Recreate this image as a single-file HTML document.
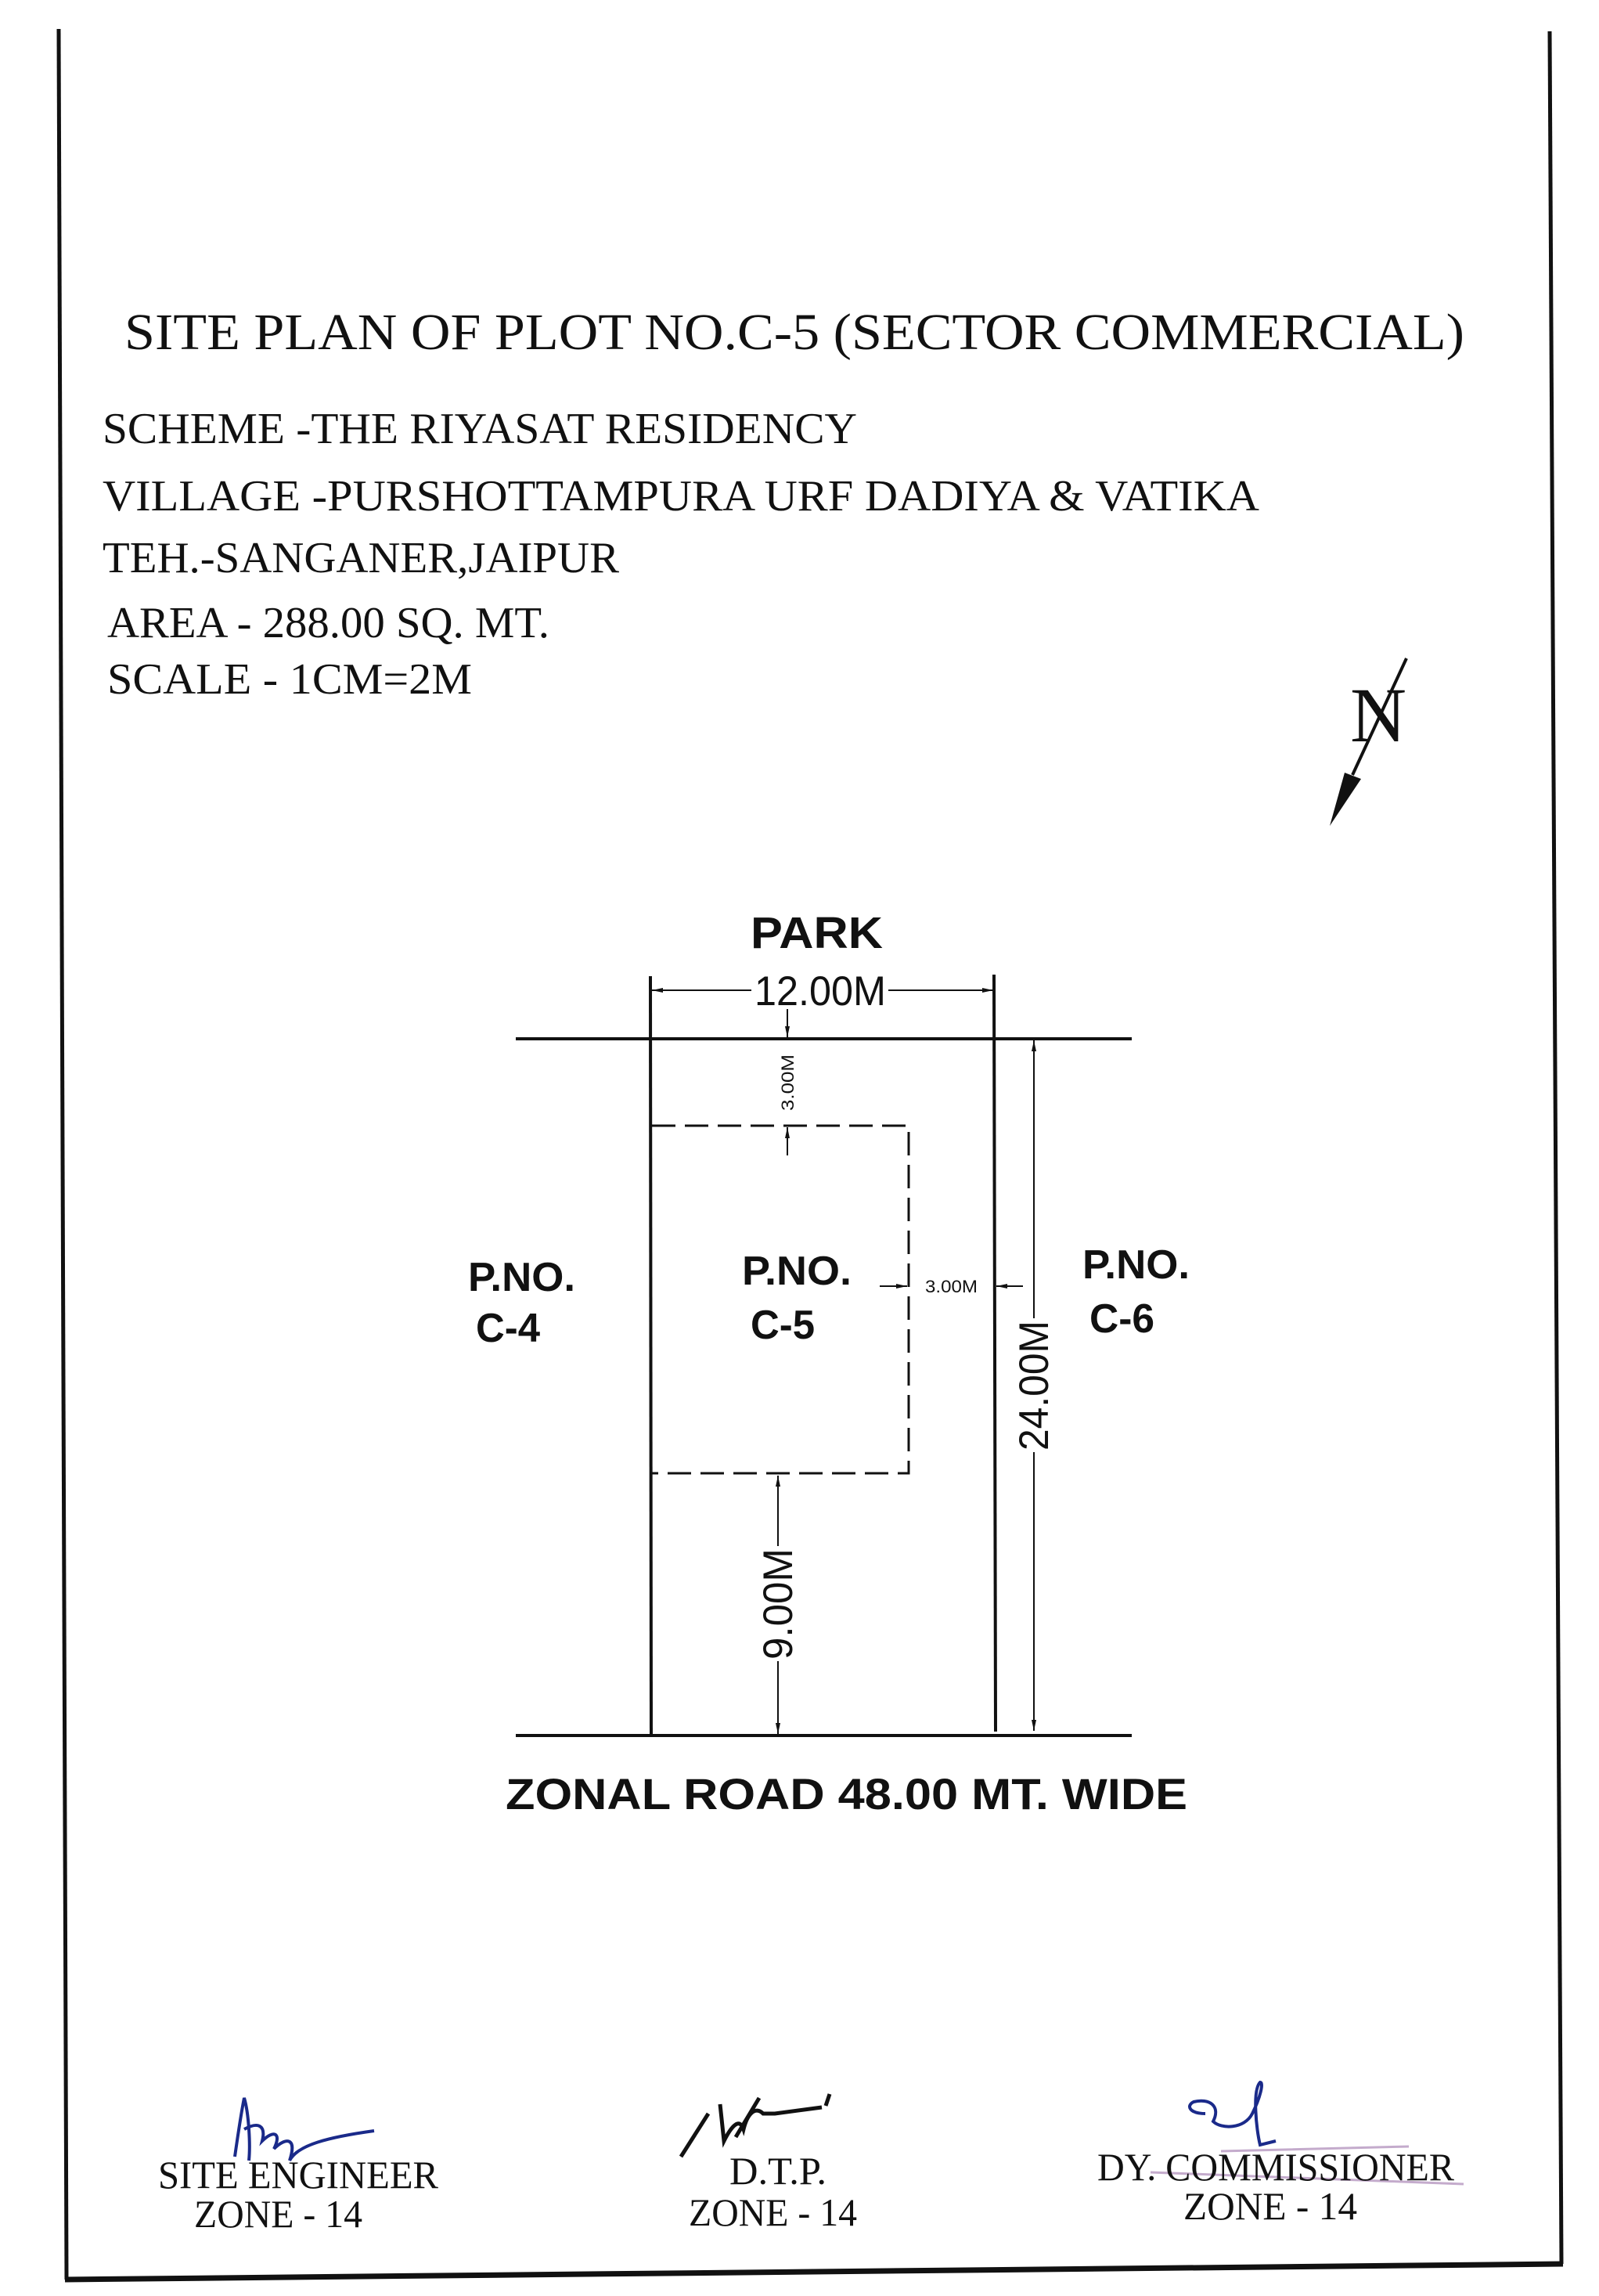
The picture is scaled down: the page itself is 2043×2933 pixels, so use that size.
<!DOCTYPE html>
<html><head><meta charset="utf-8"><style>
html,body{margin:0;padding:0;background:#fff;}
svg{display:block;}
.tr{font-family:"Liberation Serif",serif;fill:#111;}
.ar{font-family:"Liberation Sans",sans-serif;fill:#111;}
</style></head><body>
<svg width="2043" height="2933" viewBox="0 0 2043 2933" xmlns="http://www.w3.org/2000/svg">
<defs>
<marker id="ah" markerWidth="14" markerHeight="8" refX="14" refY="4" orient="auto" markerUnits="userSpaceOnUse">
<path d="M0,1 L14,4 L0,7 z" fill="#111"/></marker>
</defs>
<rect width="2043" height="2933" fill="#fff"/>
<!-- border -->
<line x1="75" y1="37" x2="85" y2="2912" stroke="#111" stroke-width="5"/>
<line x1="1980" y1="40" x2="1995" y2="2892" stroke="#111" stroke-width="5"/>
<line x1="83" y1="2912" x2="1997" y2="2892" stroke="#111" stroke-width="7"/>

<!-- header text -->
<text class="tr" x="159" y="446" font-size="66" textLength="1712" lengthAdjust="spacingAndGlyphs">SITE PLAN OF PLOT NO.C-5 (SECTOR COMMERCIAL)</text>
<text class="tr" x="131" y="566" font-size="56" textLength="964" lengthAdjust="spacingAndGlyphs">SCHEME -THE RIYASAT RESIDENCY</text>
<text class="tr" x="131" y="652" font-size="56" textLength="1478" lengthAdjust="spacingAndGlyphs">VILLAGE  -PURSHOTTAMPURA URF DADIYA &amp; VATIKA</text>
<text class="tr" x="131" y="731" font-size="56" textLength="660" lengthAdjust="spacingAndGlyphs">TEH.-SANGANER,JAIPUR</text>
<text class="tr" x="137" y="814" font-size="56" textLength="565" lengthAdjust="spacingAndGlyphs">AREA  - 288.00 SQ. MT.</text>
<text class="tr" x="137" y="886" font-size="56" textLength="466" lengthAdjust="spacingAndGlyphs">SCALE -  1CM=2M</text>

<!-- north arrow -->
<text class="tr" x="1725" y="947" font-size="100" textLength="72" lengthAdjust="spacingAndGlyphs">N</text>
<line x1="1797" y1="841" x2="1728" y2="990" stroke="#111" stroke-width="4"/>
<path d="M1699,1055 L1718,987 L1739,995 z" fill="#111"/>

<!-- plan -->
<text class="ar" x="959" y="1211" font-size="57" font-weight="bold" textLength="169" lengthAdjust="spacingAndGlyphs">PARK</text>
<line x1="659" y1="1327" x2="1446" y2="1327" stroke="#111" stroke-width="4"/>
<line x1="659" y1="2217" x2="1446" y2="2217" stroke="#111" stroke-width="4"/>
<line x1="831" y1="1247" x2="832" y2="2217" stroke="#111" stroke-width="4"/>
<line x1="1270" y1="1245" x2="1272" y2="2212" stroke="#111" stroke-width="4"/>
<!-- 12.00M -->
<line x1="960" y1="1265" x2="833" y2="1265" stroke="#111" stroke-width="2" marker-end="url(#ah)"/>
<line x1="1135" y1="1265" x2="1269" y2="1265" stroke="#111" stroke-width="2" marker-end="url(#ah)"/>
<text class="ar" x="964" y="1284" font-size="53" textLength="168" lengthAdjust="spacingAndGlyphs">12.00M</text>
<!-- 3.00M top -->
<line x1="1006" y1="1289" x2="1006" y2="1325" stroke="#111" stroke-width="2" marker-end="url(#ah)"/>
<line x1="1006" y1="1476" x2="1006" y2="1440" stroke="#111" stroke-width="2" marker-end="url(#ah)"/>
<text class="ar" font-size="22" transform="translate(1014,1419) rotate(-90)" textLength="72" lengthAdjust="spacingAndGlyphs">3.00M</text>
<!-- dashed setback -->
<path d="M833,1438 L1161,1438 L1161,1882 L833,1882" fill="none" stroke="#111" stroke-width="3" stroke-dasharray="30,12"/>
<!-- 3.00M side -->
<line x1="1124" y1="1643" x2="1159" y2="1643" stroke="#111" stroke-width="2" marker-end="url(#ah)"/>
<line x1="1307" y1="1643" x2="1273" y2="1643" stroke="#111" stroke-width="2" marker-end="url(#ah)"/>
<text class="ar" x="1182" y="1651" font-size="22" textLength="67" lengthAdjust="spacingAndGlyphs">3.00M</text>
<!-- 24.00M -->
<line x1="1321" y1="1684" x2="1321" y2="1329" stroke="#111" stroke-width="2" marker-end="url(#ah)"/>
<line x1="1321" y1="1855" x2="1321" y2="2211" stroke="#111" stroke-width="2" marker-end="url(#ah)"/>
<text class="ar" font-size="53" transform="translate(1339,1853) rotate(-90)" textLength="166" lengthAdjust="spacingAndGlyphs">24.00M</text>
<!-- 9.00M -->
<line x1="994" y1="1975" x2="994" y2="1885" stroke="#111" stroke-width="2" marker-end="url(#ah)"/>
<line x1="994" y1="2122" x2="994" y2="2215" stroke="#111" stroke-width="2" marker-end="url(#ah)"/>
<text class="ar" font-size="53" transform="translate(1012,2120) rotate(-90)" textLength="142" lengthAdjust="spacingAndGlyphs">9.00M</text>
<!-- plot labels -->
<g class="ar" font-weight="bold" font-size="52">
<text x="598" y="1649" textLength="137" lengthAdjust="spacingAndGlyphs">P.NO.</text>
<text x="608" y="1714" textLength="82" lengthAdjust="spacingAndGlyphs">C-4</text>
<text x="948" y="1641" textLength="140" lengthAdjust="spacingAndGlyphs">P.NO.</text>
<text x="959" y="1710" textLength="82" lengthAdjust="spacingAndGlyphs">C-5</text>
<text x="1383" y="1633" textLength="137" lengthAdjust="spacingAndGlyphs">P.NO.</text>
<text x="1392" y="1702" textLength="83" lengthAdjust="spacingAndGlyphs">C-6</text>
</g>
<text class="ar" x="646" y="2311" font-size="56" font-weight="bold" textLength="871" lengthAdjust="spacingAndGlyphs">ZONAL ROAD 48.00 MT. WIDE</text>

<!-- signatures -->
<path d="M300,2755 C305,2720 310,2690 312,2680 C318,2700 320,2740 318,2760 M312,2720 C330,2710 340,2715 335,2735 C350,2720 360,2725 350,2745 C365,2730 380,2730 370,2760 C380,2740 420,2730 478,2722" fill="none" stroke="#1a2a8a" stroke-width="4"/>
<path d="M870,2755 L905,2700 M920,2688 L925,2735 C935,2715 945,2705 950,2720 C955,2700 965,2690 975,2700 L990,2700 L1050,2692 M940,2730 L970,2680 M1055,2690 L1060,2675" fill="none" stroke="#111" stroke-width="5"/>
<path d="M1540,2700 C1520,2700 1515,2690 1525,2685 C1545,2680 1560,2690 1550,2710 C1560,2720 1590,2720 1600,2700 C1610,2680 1615,2660 1610,2660 C1600,2670 1605,2720 1610,2740 L1630,2735" fill="none" stroke="#1a2a8a" stroke-width="4"/>
<path d="M1560,2748 L1800,2742 M1470,2775 L1870,2790" stroke="#8a5a9a" stroke-width="3" opacity="0.5"/>
<g class="tr" font-size="50">
<text x="202" y="2795" textLength="358" lengthAdjust="spacingAndGlyphs">SITE ENGINEER</text>
<text x="248" y="2845" textLength="215" lengthAdjust="spacingAndGlyphs">ZONE - 14</text>
<text x="932" y="2790" textLength="124" lengthAdjust="spacingAndGlyphs">D.T.P.</text>
<text x="880" y="2843" textLength="215" lengthAdjust="spacingAndGlyphs">ZONE - 14</text>
<text x="1402" y="2785" textLength="456" lengthAdjust="spacingAndGlyphs">DY. COMMISSIONER</text>
<text x="1512" y="2835" textLength="222" lengthAdjust="spacingAndGlyphs">ZONE - 14</text>
</g>
</svg>
</body></html>
